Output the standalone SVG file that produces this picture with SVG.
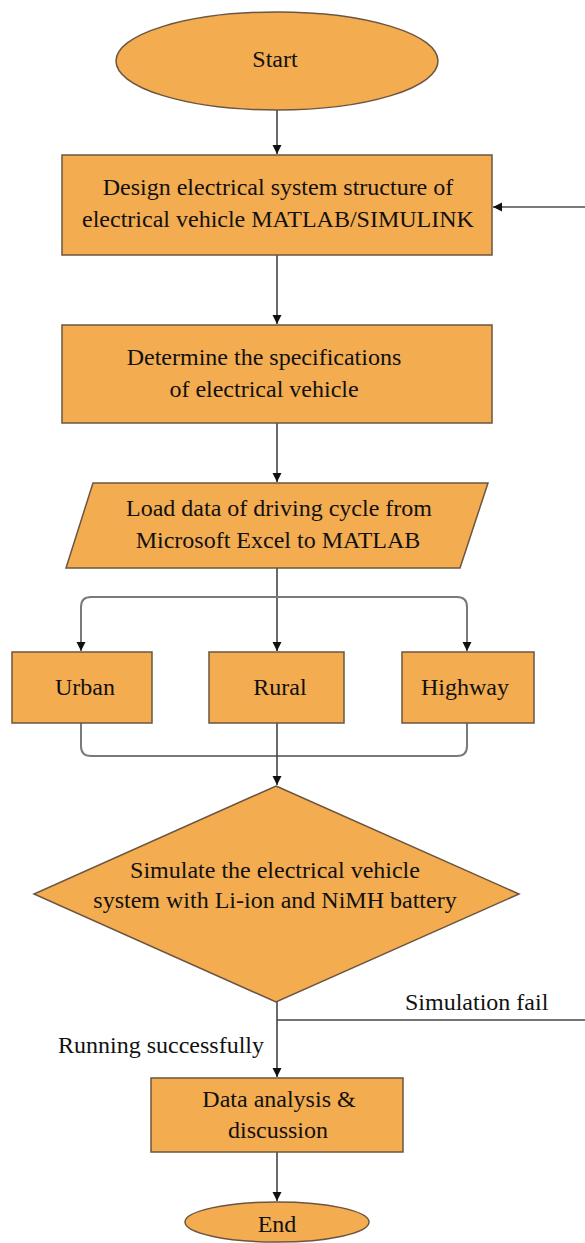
<svg xmlns="http://www.w3.org/2000/svg" width="585" height="1243" viewBox="0 0 585 1243">
<defs>
<style>
.n{fill:#F4AC50;stroke:#6b5540;stroke-width:1.5}
text{font-family:'Liberation Serif','Times New Roman','DejaVu Serif',serif;font-size:24px;fill:#111}
.t{text-anchor:middle}
.c{fill:none;stroke:#444;stroke-width:1.6}
.g{fill:none;stroke:#7a7a7a;stroke-width:2}
</style>
<marker id="ah" markerWidth="10" markerHeight="10" refX="9" refY="4.5" orient="auto" markerUnits="userSpaceOnUse">
<path d="M0,0 L9,4.5 L0,9 Z" fill="#111"/>
</marker>
</defs>
<rect width="585" height="1243" fill="#fff"/>
<g id="connectors">
<line class="c" x1="277" y1="110" x2="277" y2="154" marker-end="url(#ah)"/>
<line class="c" x1="277" y1="255" x2="277" y2="324" marker-end="url(#ah)"/>
<line class="c" x1="277" y1="423" x2="277" y2="482" marker-end="url(#ah)"/>
<line class="c" x1="277" y1="568" x2="277" y2="651" marker-end="url(#ah)"/>
<path class="g" d="M277,597 H91 Q81,597 81,607 V651" marker-end="url(#ah)"/>
<path class="g" d="M277,597 H457 Q467,597 467,607 V651" marker-end="url(#ah)"/>
<path class="g" d="M81,723 V746 Q81,756 91,756 H457 Q467,756 467,746 V723"/>
<line class="c" x1="277" y1="723" x2="277" y2="785" marker-end="url(#ah)"/>
<line class="c" x1="277" y1="1002" x2="277" y2="1077" marker-end="url(#ah)"/>
<line class="c" x1="277" y1="1020" x2="585" y2="1020"/>
<line class="g" x1="585" y1="207" x2="493" y2="207" marker-end="url(#ah)"/>
<line class="c" x1="277" y1="1152" x2="277" y2="1201" marker-end="url(#ah)"/>
<text x="405" y="1010">Simulation fail</text>
<text x="264" y="1053" text-anchor="end">Running successfully</text>
</g>
<g id="start">
<ellipse class="n" cx="277" cy="61" rx="161" ry="49"/>
<text class="t" x="275" y="67">Start</text>
</g>
<g id="design">
<rect class="n" x="62" y="155" width="430" height="100"/>
<text class="t" x="278" y="195">Design electrical system structure of</text>
<text class="t" x="278" y="227">electrical vehicle MATLAB/SIMULINK</text>
</g>
<g id="specs">
<rect class="n" x="62" y="325" width="430" height="98"/>
<text class="t" x="264" y="365">Determine the specifications</text>
<text class="t" x="264" y="397">of electrical vehicle</text>
</g>
<g id="load">
<polygon class="n" points="93,483 488,483 460,568 66,568"/>
<text class="t" x="279" y="516">Load data of driving cycle from</text>
<text class="t" x="278" y="548">Microsoft Excel to MATLAB</text>
</g>
<g id="urban">
<rect class="n" x="12" y="652" width="140" height="71"/>
<text class="t" x="85" y="695">Urban</text>
</g>
<g id="rural">
<rect class="n" x="209" y="652" width="135" height="71"/>
<text class="t" x="280" y="695">Rural</text>
</g>
<g id="highway">
<rect class="n" x="402" y="652" width="132" height="71"/>
<text class="t" x="465" y="695">Highway</text>
</g>
<g id="simulate">
<polygon class="n" points="276,786 519,894 276,1002 34,894"/>
<text class="t" x="275" y="878">Simulate the electrical vehicle</text>
<text class="t" x="275" y="908">system with Li-ion and NiMH battery</text>
</g>
<g id="analysis">
<rect class="n" x="151" y="1078" width="252" height="74"/>
<text class="t" x="279" y="1107">Data analysis &amp;</text>
<text class="t" x="278" y="1138">discussion</text>
</g>
<g id="end">
<ellipse class="n" cx="277" cy="1222" rx="92" ry="20"/>
<text class="t" x="277" y="1232">End</text>
</g>
</svg>
